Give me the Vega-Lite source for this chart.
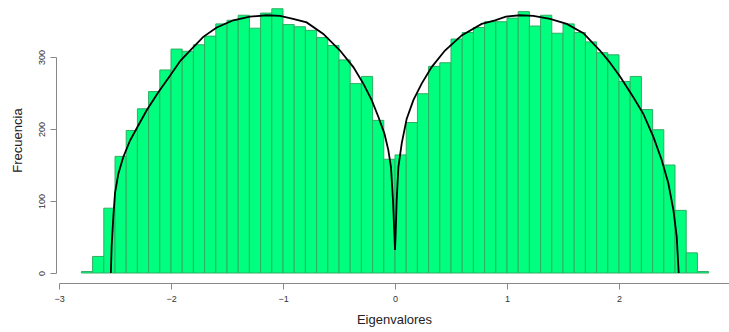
{
  "$schema": "https://vega.github.io/schema/vega-lite/v6.json",
  "autosize": {"type": "none"},
  "width": 670,
  "height": 216,
  "padding": {"left": 59, "top": 57, "right": 0, "bottom": 59},
  "background": "white",
  "config": {
    "view": {"stroke": null},
    "font": "Liberation Sans"
  },
  "datasets": {
    "hist": [
      {"x": -2.8, "x2": -2.7, "y": 2},
      {"x": -2.7, "x2": -2.6, "y": 23},
      {"x": -2.6, "x2": -2.5, "y": 90},
      {"x": -2.5, "x2": -2.4, "y": 162},
      {"x": -2.4, "x2": -2.3, "y": 198},
      {"x": -2.3, "x2": -2.2, "y": 228},
      {"x": -2.2, "x2": -2.1, "y": 252},
      {"x": -2.1, "x2": -2.0, "y": 282},
      {"x": -2.0, "x2": -1.9, "y": 311},
      {"x": -1.9, "x2": -1.8, "y": 308},
      {"x": -1.8, "x2": -1.7, "y": 317},
      {"x": -1.7, "x2": -1.6, "y": 329},
      {"x": -1.6, "x2": -1.5, "y": 346},
      {"x": -1.5, "x2": -1.4, "y": 351},
      {"x": -1.4, "x2": -1.3, "y": 358},
      {"x": -1.3, "x2": -1.2, "y": 340},
      {"x": -1.2, "x2": -1.1, "y": 361},
      {"x": -1.1, "x2": -1.0, "y": 367},
      {"x": -1.0, "x2": -0.9, "y": 345},
      {"x": -0.9, "x2": -0.8, "y": 342},
      {"x": -0.8, "x2": -0.7, "y": 337},
      {"x": -0.7, "x2": -0.6, "y": 327},
      {"x": -0.6, "x2": -0.5, "y": 316},
      {"x": -0.5, "x2": -0.4, "y": 296},
      {"x": -0.4, "x2": -0.3, "y": 263},
      {"x": -0.3, "x2": -0.2, "y": 273},
      {"x": -0.2, "x2": -0.1, "y": 212},
      {"x": -0.1, "x2": 0.0, "y": 158},
      {"x": 0.0, "x2": 0.1, "y": 164},
      {"x": 0.1, "x2": 0.2, "y": 209},
      {"x": 0.2, "x2": 0.3, "y": 249},
      {"x": 0.3, "x2": 0.4, "y": 287},
      {"x": 0.4, "x2": 0.5, "y": 292},
      {"x": 0.5, "x2": 0.6, "y": 325},
      {"x": 0.6, "x2": 0.7, "y": 334},
      {"x": 0.7, "x2": 0.8, "y": 341},
      {"x": 0.8, "x2": 0.9, "y": 349},
      {"x": 0.9, "x2": 1.0, "y": 349},
      {"x": 1.0, "x2": 1.1, "y": 354},
      {"x": 1.1, "x2": 1.2, "y": 363},
      {"x": 1.2, "x2": 1.3, "y": 343},
      {"x": 1.3, "x2": 1.4, "y": 358},
      {"x": 1.4, "x2": 1.5, "y": 333},
      {"x": 1.5, "x2": 1.6, "y": 346},
      {"x": 1.6, "x2": 1.7, "y": 334},
      {"x": 1.7, "x2": 1.8, "y": 321},
      {"x": 1.8, "x2": 1.9, "y": 306},
      {"x": 1.9, "x2": 2.0, "y": 303},
      {"x": 2.0, "x2": 2.1, "y": 266},
      {"x": 2.1, "x2": 2.2, "y": 273},
      {"x": 2.2, "x2": 2.3, "y": 227},
      {"x": 2.3, "x2": 2.4, "y": 199},
      {"x": 2.4, "x2": 2.5, "y": 150},
      {"x": 2.5, "x2": 2.6, "y": 87},
      {"x": 2.6, "x2": 2.7, "y": 28},
      {"x": 2.7, "x2": 2.8, "y": 2}
    ],
    "curve": [
      {"x": -2.537, "y": 0},
      {"x": -2.530, "y": 37},
      {"x": -2.515, "y": 78},
      {"x": -2.500, "y": 111},
      {"x": -2.470, "y": 138},
      {"x": -2.426, "y": 161},
      {"x": -2.366, "y": 184},
      {"x": -2.306, "y": 201},
      {"x": -2.217, "y": 226},
      {"x": -2.113, "y": 251},
      {"x": -2.009, "y": 274},
      {"x": -1.915, "y": 295},
      {"x": -1.830, "y": 309},
      {"x": -1.712, "y": 328},
      {"x": -1.592, "y": 341},
      {"x": -1.444, "y": 351},
      {"x": -1.295, "y": 356},
      {"x": -1.146, "y": 358},
      {"x": -1.027, "y": 357},
      {"x": -0.910, "y": 353},
      {"x": -0.789, "y": 348},
      {"x": -0.640, "y": 332},
      {"x": -0.491, "y": 309},
      {"x": -0.372, "y": 286},
      {"x": -0.283, "y": 263},
      {"x": -0.208, "y": 240},
      {"x": -0.149, "y": 217},
      {"x": -0.095, "y": 194},
      {"x": -0.060, "y": 171},
      {"x": -0.036, "y": 147},
      {"x": -0.018, "y": 101},
      {"x": -0.006, "y": 55},
      {"x": 0.0, "y": 32},
      {"x": 0.006, "y": 55},
      {"x": 0.015, "y": 101},
      {"x": 0.030, "y": 147},
      {"x": 0.060, "y": 180},
      {"x": 0.104, "y": 214},
      {"x": 0.164, "y": 240},
      {"x": 0.238, "y": 263},
      {"x": 0.327, "y": 286},
      {"x": 0.446, "y": 309},
      {"x": 0.595, "y": 330},
      {"x": 0.774, "y": 346},
      {"x": 0.893, "y": 351},
      {"x": 0.990, "y": 356},
      {"x": 1.116, "y": 358},
      {"x": 1.235, "y": 357},
      {"x": 1.384, "y": 353},
      {"x": 1.533, "y": 346},
      {"x": 1.682, "y": 333},
      {"x": 1.830, "y": 309},
      {"x": 1.910, "y": 294},
      {"x": 2.009, "y": 273},
      {"x": 2.128, "y": 244},
      {"x": 2.217, "y": 221},
      {"x": 2.307, "y": 189},
      {"x": 2.381, "y": 157},
      {"x": 2.440, "y": 125},
      {"x": 2.485, "y": 88},
      {"x": 2.515, "y": 51},
      {"x": 2.533, "y": 0}
    ]
  },
  "encoding": {
    "x": {
      "field": "x",
      "type": "quantitative",
      "title": "Eigenvalores",
      "scale": {"domain": [-3, 2.982], "nice": false, "zero": false},
      "axis": {
        "values": [-3, -2, -1, 0, 1, 2],
        "offset": 10,
        "grid": false,
        "domainColor": "#888888",
        "tickColor": "#888888",
        "tickSize": 6,
        "labelFontSize": 9,
        "labelColor": "#333333",
        "labelPadding": 5,
        "labelFlush": false,
        "titleFontSize": 13,
        "titleFontWeight": "normal",
        "titleColor": "#222222",
        "titlePadding": 10
      }
    },
    "y": {
      "field": "y",
      "type": "quantitative",
      "title": "Frecuencia",
      "scale": {"domain": [0, 300], "nice": false, "zero": true},
      "axis": {
        "values": [0, 100, 200, 300],
        "offset": 3,
        "grid": false,
        "domainColor": "#888888",
        "tickColor": "#888888",
        "tickSize": 6,
        "labelFontSize": 9,
        "labelColor": "#333333",
        "labelAngle": 270,
        "labelAlign": "center",
        "labelBaseline": "alphabetic",
        "labelPadding": 6,
        "titleFontSize": 13,
        "titleFontWeight": "normal",
        "titleColor": "#222222",
        "titlePadding": 13,
        "titleY": 83
      }
    }
  },
  "layer": [
    {
      "data": {"name": "hist"},
      "mark": {"type": "bar", "fill": "#00FF7F", "stroke": "#2fae62", "strokeWidth": 1, "clip": false},
      "encoding": {
        "x2": {"field": "x2"},
        "y2": {"datum": 0}
      }
    },
    {
      "data": {"name": "curve"},
      "mark": {"type": "line", "color": "#000000", "strokeWidth": 1.8, "clip": false},
      "encoding": {}
    }
  ]
}
